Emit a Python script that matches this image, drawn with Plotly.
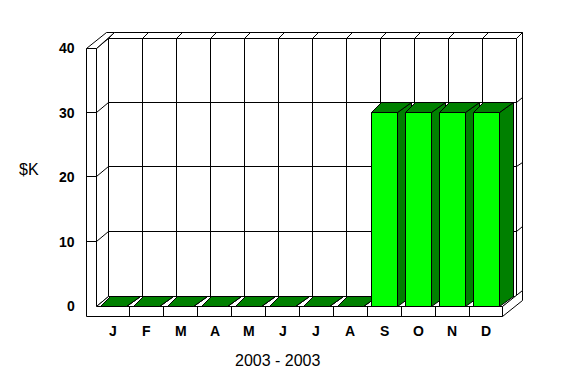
import plotly.graph_objects as go

# ---- data ----
months = ["J", "F", "M", "A", "M", "J", "J", "A", "S", "O", "N", "D"]
values = [0, 0, 0, 0, 0, 0, 0, 0, 30, 30, 30, 30]
y_ticks = [0, 10, 20, 30, 40]
y_title = "$K"
x_title = "2003 - 2003"

# ---- geometry (pixel scale of the reference) ----
W, H = 574, 382
X0_PX, CW = 96.0, 407.0 / 12      # left of first category, px per category
Y0_PX, PPU = 306.0, 258.0 / 40    # baseline px, px per value unit
N = len(months)
YMAX = max(y_ticks)

def dx(px):
    return px / CW

def dy(px):
    return px / PPU

def px_x(px):
    return (px - X0_PX) / CW

def px_y(py):
    return (Y0_PX - py) / PPU

def snap_x(x):
    p = X0_PX + x * CW
    return px_x(round(p - 0.5) + 0.5)

def snap_y(y):
    p = Y0_PX - y * PPU
    return px_y(round(p - 0.5) + 0.5)

D1 = (dx(13), dy(10))    # depth to back-wall front face
D2 = (dx(19), dy(15))    # full depth (back of slabs)
WT = dx(9)               # left wall thickness
FT = dy(10)              # floor thickness
IN_L, IN_R = 0.118, 0.885
BAR_DXL, BAR_DXR, BAR_DY = dx(10), dx(14), dy(10)

BRIGHT = "#00FF00"
DARK = "#008000"

shapes = []

def poly(pts, fill=None, lw=1):
    p = "M " + " L ".join(f"{snap_x(x):.5f},{snap_y(y):.5f}" for x, y in pts) + " Z"
    shapes.append(dict(type="path", path=p, xref="x", yref="y",
                       fillcolor=fill if fill else "rgba(0,0,0,0)",
                       line=dict(color="black", width=lw), layer="above"))

def seg(a, b):
    shapes.append(dict(type="line", x0=snap_x(a[0]), y0=snap_y(a[1]),
                       x1=snap_x(b[0]), y1=snap_y(b[1]),
                       xref="x", yref="y", line=dict(color="black", width=1),
                       layer="above"))

d1x, d1y = D1
d2x, d2y = D2

# back wall front face
poly([(d1x, d1y), (N + d1x, d1y), (N + d1x, YMAX + d1y), (d1x, YMAX + d1y)], "white")
# back wall top face
poly([(d1x, YMAX + d1y), (N + d1x, YMAX + d1y), (N + d2x, YMAX + d2y), (d2x, YMAX + d2y)], "white")
# back wall right face
poly([(N + d1x, d1y), (N + d1x, YMAX + d1y), (N + d2x, YMAX + d2y), (N + d2x, d2y)], "white")
# left wall inner face
poly([(0, 0), (0, YMAX), (d1x, YMAX + d1y), (d1x, d1y)], "white")
# left wall top face
poly([(-WT, YMAX), (0, YMAX), (d2x, YMAX + d2y), (-WT + d2x, YMAX + d2y)], "white")
# floor top face
poly([(0, 0), (N, 0), (N + d1x, d1y), (d1x, d1y)], "white")
# floor right face
poly([(N, -FT), (N, 0), (N + d2x, d2y), (N + d2x, -FT + d2y)], "white")
# left wall front + floor front (one face)
poly([(-WT, -FT), (N, -FT), (N, 0), (0, 0), (0, YMAX), (-WT, YMAX)], "white")

# grid lines
for v in y_ticks:
    if v in (0, YMAX):
        continue
    seg((d1x, v + d1y), (N + d1x, v + d1y))
    seg((0, v), (d1x, v + d1y))
    seg((-WT, v), (0, v))
    seg((N + d1x, v + d1y), (N + d2x, v + d2y))
for k in range(1, N):
    seg((k + d1x, d1y), (k + d1x, YMAX + d1y))
    seg((k + d1x, YMAX + d1y), (k + d2x, YMAX + d2y))
    seg((k, -FT), (k, 0))

# bars
for i, v in enumerate(values):
    xl, xr = i + IN_L, i + IN_R
    poly([(xr, 0), (xr, v), (xr + BAR_DXR, v + BAR_DY), (xr + BAR_DXR, BAR_DY)], DARK)
    poly([(xl, v), (xr, v), (xr + BAR_DXR, v + BAR_DY), (xl + BAR_DXL, v + BAR_DY)], DARK)
    if v > 0:
        poly([(xl, 0), (xr, 0), (xr, v), (xl, v)], BRIGHT)

annotations = []
bold = dict(family="Liberation Sans, Arial, sans-serif", size=14, color="black")
for t in y_ticks:
    annotations.append(dict(x=px_x(77), y=t, xref="x", yref="y", text=f"<b>{t}</b>",
                            showarrow=False, xanchor="right", yanchor="middle", font=bold))
for i, m in enumerate(months):
    annotations.append(dict(x=i + 0.5, y=px_y(331), xref="x", yref="y", text=f"<b>{m}</b>",
                            showarrow=False, xanchor="center", yanchor="middle", font=bold))
reg = dict(family="Liberation Sans, Arial, sans-serif", size=16, color="black")
annotations.append(dict(x=px_x(29), y=px_y(169), xref="x", yref="y", text=y_title,
                        showarrow=False, xanchor="center", yanchor="middle", font=reg))
annotations.append(dict(x=px_x(278), y=px_y(360), xref="x", yref="y", text=x_title,
                        showarrow=False, xanchor="center", yanchor="middle", font=reg))

fig = go.Figure()
fig.add_trace(go.Scatter(x=[i + 0.5 for i in range(N)], y=values, mode="markers",
                         marker=dict(opacity=0), hoverinfo="skip", showlegend=False))
fig.update_layout(
    width=W, height=H, margin=dict(l=0, r=0, t=0, b=0),
    paper_bgcolor="white", plot_bgcolor="white",
    xaxis=dict(range=[px_x(0), px_x(W)], visible=False, fixedrange=True),
    yaxis=dict(range=[px_y(H), px_y(0)], visible=False, fixedrange=True),
    shapes=shapes, annotations=annotations, showlegend=False,
)
fig.write_html("out.html")
